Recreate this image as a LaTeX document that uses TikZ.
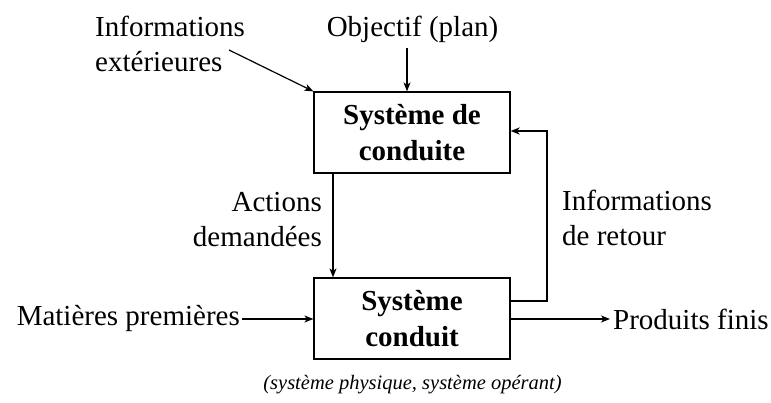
\documentclass[tikz,border=0pt]{standalone}
\usepackage{fontspec}
\setmainfont{Liberation Serif}
\usetikzlibrary{arrows.meta}
\begin{document}
\begin{tikzpicture}[x=1pt,y=-1pt,
  lbl/.style={inner sep=0pt,font=\fontsize{29}{35}\selectfont},
  boxn/.style={draw,line width=1.2pt,minimum width=196pt,minimum height=81pt,inner sep=0pt,align=center,font=\fontsize{29}{36}\selectfont\bfseries},
  arr/.style={line width=1.2pt,-{Stealth[length=9pt,width=7pt,inset=2.5pt]}},
  fbline/.style={line width=1.6pt,-{Stealth[length=9pt,width=7pt,inset=2.5pt]}}]
\useasboundingbox (0,0) rectangle (771,403);
\node[boxn] (b1) at (412,132.5) {Système de\\conduite};
\node[boxn] (b2) at (412,318.5) {Système\\conduit};
\node[lbl,anchor=base] (obj) at (412.5,37) {Objectif (plan)};
\node[lbl,anchor=base west,align=left] (ext) at (95,72) {Informations\\extérieures};
\node[lbl,anchor=base east,align=right] (act) at (322,247) {Actions\\demandées};
\node[lbl,anchor=base west,align=left] (ret) at (562,246) {Informations\\de retour};
\node[lbl,anchor=east] (mat) at (240,319) {Matières premières};
\node[lbl,anchor=west] (prod) at (613,319) {Produits finis};
\node[inner sep=0pt,anchor=base,font=\fontsize{20.5}{24}\selectfont\itshape] (cap) at (412.5,389) {(système physique, système opérant)};
\coordinate (extend) at (229,50);
\coordinate (fbx) at (547,131);
\draw[arr] (extend) -- (b1.north west);
\draw[arr] (407,48) -- (b1.north -| 407,0);
\draw[arr] ([xshift=-79pt]b1.south) -- ([xshift=-79pt]b2.north);
\draw[arr] (mat.east) ++(2pt,0) -- (b2.west |- mat.east);
\draw[arr,shorten >=3pt] (b2.east |- prod.west) -- (prod.west);
\draw[fbline] ([yshift=17.5pt]b2.east) -| (fbx) -- (b1.east |- fbx);
\end{tikzpicture}
\end{document}
